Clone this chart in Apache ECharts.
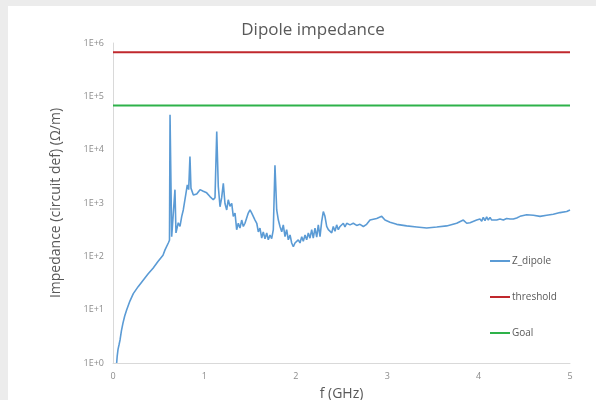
<!DOCTYPE html>
<html><head><meta charset="utf-8">
<script src="https://cdn.jsdelivr.net/npm/echarts@6/dist/echarts.min.js"></script>
<style>html,body{margin:0;padding:0;background:#fff}#c{width:596px;height:400px}</style>
</head><body><div id="c"></div>
<script>
var titleText = 'Dipole impedance';
var xName = 'f (GHz)';
var yName = 'Impedance (circuit def) (Ω/m)';
var seriesNames = ['Z_dipole', 'threshold', 'Goal'];
var xTicks = [0, 1, 2, 3, 4, 5];
var yTicks = [1, 10, 100, 1000, 10000, 100000, 1000000];

var freqGHz = [0.040,0.046,0.055,0.066,0.077,0.092,0.109,0.128,0.150,0.185,0.222,0.275,0.332,0.385,0.438,0.492,0.547,0.569,0.605,0.618,0.624,0.642,0.660,0.678,0.689,0.714,0.733,0.752,0.769,0.799,0.813,0.828,0.842,0.853,0.879,0.916,0.952,0.988,1.025,1.061,1.097,1.116,1.135,1.152,1.171,1.189,1.207,1.225,1.244,1.261,1.280,1.299,1.316,1.335,1.353,1.371,1.389,1.408,1.426,1.444,1.463,1.480,1.499,1.518,1.535,1.554,1.573,1.590,1.608,1.627,1.644,1.663,1.682,1.699,1.718,1.736,1.754,1.772,1.791,1.809,1.827,1.846,1.863,1.882,1.900,1.918,1.937,1.955,1.973,1.991,2.010,2.027,2.046,2.065,2.082,2.101,2.119,2.137,2.155,2.174,2.191,2.210,2.229,2.246,2.265,2.283,2.301,2.319,2.338,2.356,2.374,2.393,2.410,2.429,2.447,2.465,2.484,2.502,2.520,2.538,2.557,2.593,2.629,2.666,2.702,2.739,2.775,2.812,2.885,2.940,2.957,2.976,3.031,3.104,3.213,3.323,3.432,3.542,3.651,3.760,3.833,3.870,3.906,3.979,4.015,4.034,4.051,4.070,4.088,4.106,4.125,4.143,4.161,4.198,4.234,4.271,4.307,4.344,4.380,4.417,4.453,4.526,4.599,4.672,4.745,4.817,4.891,4.964,5.000];
var zDipole = [1.0,1.35,1.8,2.2,2.7,4.0,5.6,7.6,10,14.5,20,27,36,47,60,80,105,132,178,200,45000,234,250,1780,275,427,363,562,741,1550,2190,1780,7400,1900,1410,1480,1780,1660,1550,1320,1150,1260,21900,2040,850,1260,2340,980,741,1150,870,980,562,646,316,417,339,479,363,417,447,646,741,646,692,479,417,288,339,219,288,214,275,204,251,214,316,5100,741,479,363,288,389,234,316,204,251,178,151,178,166,204,178,234,191,251,204,275,219,316,219,339,229,389,234,447,692,562,363,316,339,275,363,295,389,316,363,339,417,355,417,389,417,380,398,363,398,479,513,562,537,479,437,398,372,355,339,355,372,417,479,417,427,479,501,457,537,468,550,479,537,479,513,479,501,479,513,501,501,525,562,603,589,562,589,617,661,692,741];
var thresholdX = [0, 5];
var thresholdY = [670000, 670000];
var goalX = [0, 5];
var goalY = [67000, 67000];

function zip(a, b) { return a.map(function (v, i) { return [v, b[i]]; }); }

var chart = echarts.init(document.getElementById('c'));
var font = '"Open Sans", "Noto Sans", sans-serif';
chart.setOption({
  animation: false,
  backgroundColor: '#ececec',
  textStyle: { fontFamily: font },
  graphic: [{ type: 'rect', z: -10, shape: { x: 8, y: 6, width: 600, height: 400 }, style: { fill: '#ffffff' } }],
  title: { text: titleText, left: 308, top: 17, textAlign: 'center',
    textStyle: { fontSize: 17, fontWeight: 'normal', color: '#595959', fontFamily: font } },
  legend: {
    orient: 'vertical', left: 485, top: 251, itemWidth: 20, itemHeight: 2, itemGap: 26,
    icon: 'rect', data: seriesNames,
    textStyle: { fontSize: 10, color: '#595959', fontFamily: font, padding: [0, 0, 0, -3] }
  },
  grid: { left: 113, right: 26, top: 43, bottom: 37, containLabel: false, outerBoundsMode: 'none' },
  xAxis: {
    type: 'value', min: xTicks[0], max: xTicks[xTicks.length - 1], interval: 1,
    name: xName, nameLocation: 'middle', nameGap: 24,
    nameTextStyle: { fontSize: 14, color: '#595959', fontFamily: font },
    axisLine: { lineStyle: { color: '#d9d9d9', width: 1 } },
    axisTick: { show: false }, splitLine: { show: false },
    axisLabel: { fontSize: 9, color: '#8c8c8c', margin: 9 }
  },
  yAxis: {
    type: 'log', logBase: 10, min: yTicks[0], max: yTicks[yTicks.length - 1],
    name: yName, nameLocation: 'middle', nameGap: 50,
    nameTextStyle: { fontSize: 14, color: '#595959', fontFamily: font },
    axisLine: { show: true, lineStyle: { color: '#d9d9d9', width: 1 } },
    axisTick: { show: false }, splitLine: { show: false },
    axisLabel: { fontSize: 9, color: '#8c8c8c', margin: 9,
      formatter: function (v) { return '1E+' + Math.round(Math.log10(v)); } }
  },
  series: [
    { name: seriesNames[0], type: 'line', data: zip(freqGHz, zDipole), showSymbol: false, symbol: 'none',
      lineStyle: { color: '#5b9bd5', width: 1.6 }, itemStyle: { color: '#5b9bd5' } },
    { name: seriesNames[1], type: 'line', data: zip(thresholdX, thresholdY), showSymbol: false, symbol: 'none',
      lineStyle: { color: '#c0282d', width: 2 }, itemStyle: { color: '#c0282d' } },
    { name: seriesNames[2], type: 'line', data: zip(goalX, goalY), showSymbol: false, symbol: 'none',
      lineStyle: { color: '#2eb24a', width: 2 }, itemStyle: { color: '#2eb24a' } }
  ]
});
</script></body></html>
